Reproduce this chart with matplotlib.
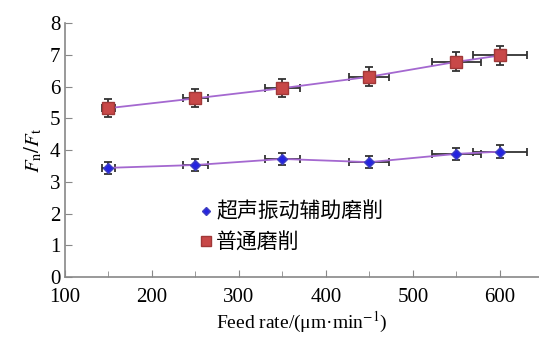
import matplotlib
matplotlib.use("Agg")
import matplotlib.pyplot as plt
from matplotlib.ticker import MultipleLocator

plt.rcParams['font.family'] = ['Liberation Serif', 'Noto Sans CJK SC']
plt.rcParams['mathtext.fontset'] = 'stix'

feed = [150, 250, 350, 450, 550, 600]
ultra = [3.44, 3.53, 3.72, 3.62, 3.88, 3.95]
ultra_yerr = [0.18, 0.18, 0.18, 0.18, 0.18, 0.2]
normal = [5.32, 5.63, 5.95, 6.31, 6.78, 6.98]
normal_yerr = [0.28, 0.28, 0.28, 0.3, 0.3, 0.3]
feed_err = [7, 14, 20, 23, 28, 31]

fig = plt.figure(figsize=(5.39, 3.45), dpi=100)
ax = fig.add_axes([0.1206, 0.197, 0.8794, 0.736])

line_c = '#a468d0'
err_c = '#333333'

ax.errorbar(feed, ultra, xerr=feed_err, yerr=ultra_yerr, fmt='none',
            ecolor=err_c, elinewidth=1.3, capsize=3, capthick=1.3, zorder=2)
ax.errorbar(feed, normal, xerr=feed_err, yerr=normal_yerr, fmt='none',
            ecolor=err_c, elinewidth=1.3, capsize=3, capthick=1.3, zorder=2)
ax.plot(feed, ultra, color=line_c, lw=1.3, zorder=3)
ax.plot(feed, normal, color=line_c, lw=1.3, zorder=3)
ax.plot(feed, ultra, 'D', color='#2424e0', ms=5, mec='#4040c0', ls='none',
        zorder=4, label='超声振动辅助磨削')
ax.plot(feed, normal, 's', color='#c84848', ms=8, mec='#a03838', ls='none',
        zorder=4, label='普通磨削')

ax.set_xlim(100, 645)
ax.set_ylim(0, 8)
ax.xaxis.set_major_locator(MultipleLocator(100))
ax.xaxis.set_minor_locator(MultipleLocator(50))
ax.yaxis.set_major_locator(MultipleLocator(1))
for s in ['top', 'right']:
    ax.spines[s].set_visible(False)
for s in ['left', 'bottom']:
    ax.spines[s].set_color('#888888')
    ax.spines[s].set_linewidth(1.2)
ax.tick_params(which='both', direction='in', colors='#888888', labelcolor='black',
               labelsize=15)
ax.tick_params(which='major', length=5)
ax.tick_params(which='minor', length=4)
ax.tick_params(axis='x', pad=8)

ax.set_xlabel('Feed rate/(μm·min$^{-1}$)', fontsize=14, labelpad=2)
ax.set_ylabel('$F_{\\mathrm{n}}/F_{\\mathrm{t}}$', fontsize=15, labelpad=4)

leg = ax.legend(loc='lower left', bbox_to_anchor=(0.235, 0.02), frameon=False,
                prop={'family': ['Noto Sans CJK SC'], 'size': 15},
                handletextpad=0.0, handlelength=1.0, labelspacing=0.4,
                markerscale=0.85)

fig.savefig('out.png', dpi=100)
